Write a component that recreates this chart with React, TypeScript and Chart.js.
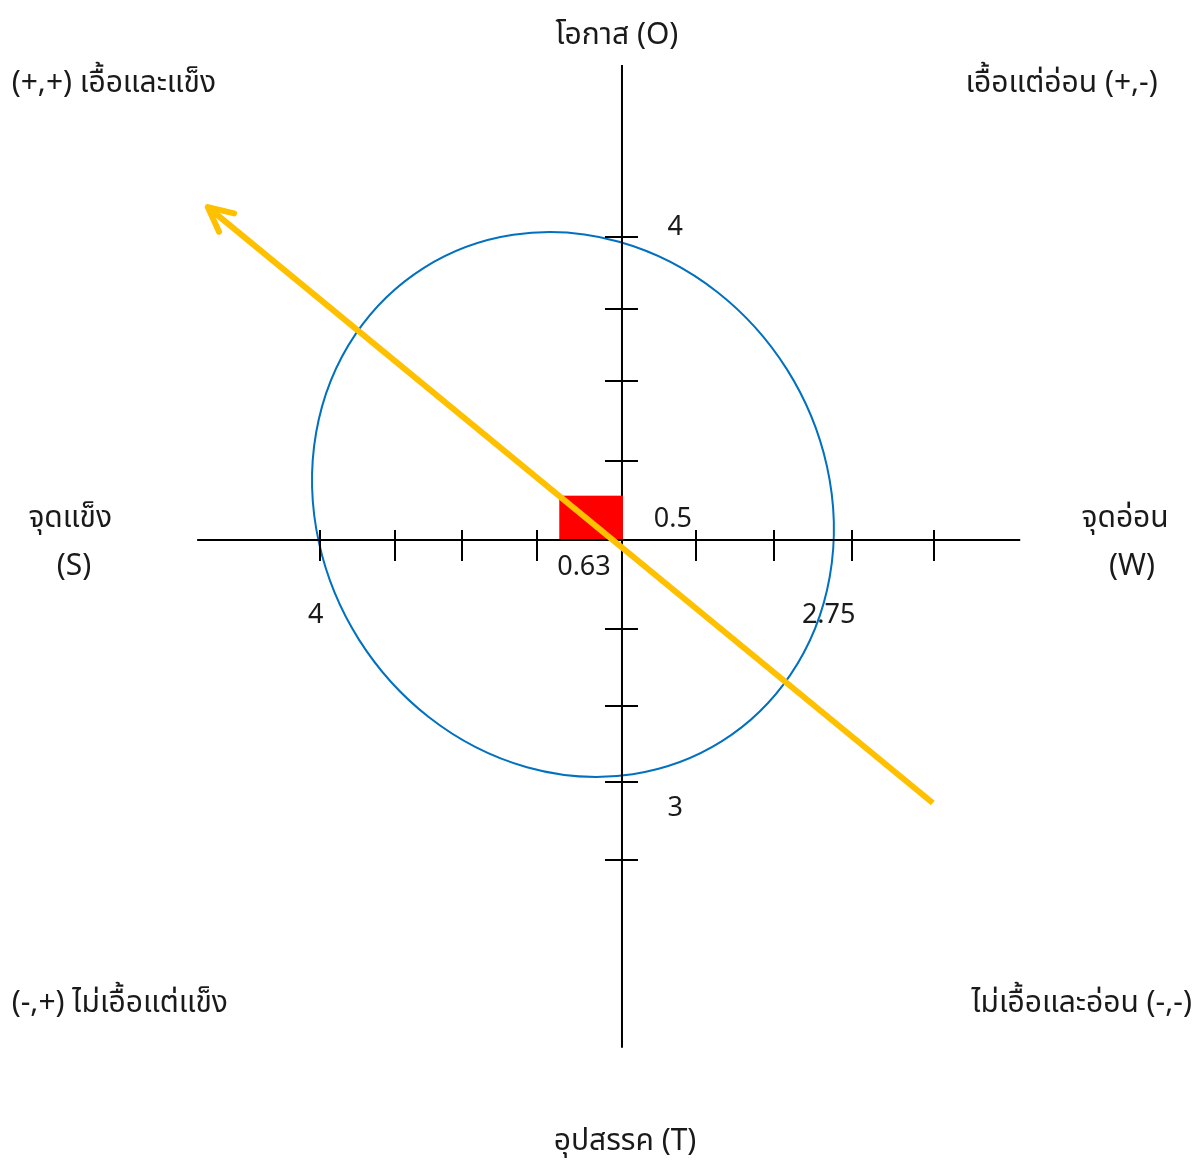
import React, { useEffect, useRef } from "react";
import { Chart, registerables } from "chart.js";

Chart.register(...registerables);

// Plot window (units of the SWOT scores)
const X_MIN = -8.184;
const X_MAX = 7.553;
const Y_MIN = -8.158;
const Y_MAX = 7.105;

// Axes extents
const horizontalAxis = [
  { x: -5.59, y: 0 },
  { x: 5.24, y: 0 },
];
const verticalAxis = [
  { x: 0, y: 6.25 },
  { x: 0, y: -6.68 },
];

// Tick positions
const xTicks = [-3.98, -2.99, -2.1, -1.12, 0.97, 2.0, 3.03, 4.11];
const yTicks = [3.99, 3.04, 2.09, 1.04, -1.17, -2.18, -3.18, -4.21];

// Strategy arrow (tail -> head)
const strategyArrow = [
  { x: 4.09, y: -3.46 },
  { x: -5.45, y: 4.38 },
];

// Red result box
const boxX = [-0.825, 0];
const boxY = [0, 0.583];

// Blue ellipse: center, semi axes, rotation (deg)
const ellipseCenter = [-0.645, 0.467];
const ellipseRadii = [3.68, 3.33];
const ellipseRotationDeg = 57.8;

// Text labels
const labelTexts = [
  "โอกาส (O)",
  "(+,+) เอื้อและแข็ง",
  "เอื้อแต่อ่อน (+,-)",
  "จุดแข็ง",
  "(S)",
  "จุดอ่อน",
  "(W)",
  "(-,+) ไม่เอื้อแต่แข็ง",
  "ไม่เอื้อและอ่อน (-,-)",
  "อุปสรรค (T)",
  "4",
  "0.5",
  "0.63",
  "4",
  "2.75",
  "3",
];
const labelX = [-0.066, -8.03, 7.05, -7.26, -7.21, 6.62, 6.71, -8.03, 7.5, 0.04, 0.7, 0.67, -0.5, -4.03, 2.72, 0.7];
const labelY = [6.66, 6.03, 6.03, 0.3, -0.33, 0.3, -0.33, -6.08, -6.08, -7.89, 4.14, 0.3, -0.33, -0.97, -0.97, -3.51];
const labelAlign: CanvasTextAlign[] = [
  "center", "left", "right", "center", "center", "center", "center",
  "left", "right", "center", "center", "center", "center", "center", "center", "center",
];

const FONT = "'Noto Sans Thai', 'Leelawadee UI', Tahoma, 'Noto Sans', 'DejaVu Sans', sans-serif";

const shapesPlugin = {
  id: "swotShapes",
  beforeDatasetsDraw(chart: any) {
    const { ctx, scales } = chart;
    const xs = scales.x;
    const ys = scales.y;
    const cx = xs.getPixelForValue(ellipseCenter[0]);
    const cy = ys.getPixelForValue(ellipseCenter[1]);
    const rx = Math.abs(xs.getPixelForValue(ellipseCenter[0] + ellipseRadii[0]) - cx);
    const ry = Math.abs(ys.getPixelForValue(ellipseCenter[1] + ellipseRadii[1]) - cy);
    ctx.save();
    ctx.beginPath();
    ctx.ellipse(cx, cy, rx, ry, (ellipseRotationDeg * Math.PI) / 180, 0, Math.PI * 2);
    ctx.strokeStyle = "#0070C0";
    ctx.lineWidth = 2;
    ctx.stroke();
    ctx.restore();
  },
  afterDatasetDraw(chart: any, args: any) {
    const { ctx, scales } = chart;
    const xs = scales.x;
    const ys = scales.y;
    if (args.index === 2) {
      // after vertical axis: red box covers it
      const bx0 = xs.getPixelForValue(boxX[0]);
      const bx1 = xs.getPixelForValue(boxX[1]);
      const by0 = ys.getPixelForValue(boxY[0]);
      const by1 = ys.getPixelForValue(boxY[1]);
      ctx.save();
      ctx.fillStyle = "#FF0000";
      ctx.fillRect(bx0, by1, bx1 - bx0 + 1, by0 - by1);
      ctx.restore();
    }
    if (args.index === 1) {
      ctx.save();
      ctx.strokeStyle = "#000000";
      ctx.lineWidth = 2;
      const y0 = ys.getPixelForValue(0);
      const x0 = xs.getPixelForValue(0);
      ctx.beginPath();
      xTicks.forEach((t) => {
        const px = Math.round(xs.getPixelForValue(t));
        ctx.moveTo(px, y0 - 10);
        ctx.lineTo(px, y0 + 21);
      });
      yTicks.forEach((t) => {
        const py = Math.round(ys.getPixelForValue(t));
        ctx.moveTo(x0 - 17, py);
        ctx.lineTo(x0 + 16, py);
      });
      ctx.stroke();
      ctx.restore();
    }
    if (args.index === 0) {
      const tail = strategyArrow[0];
      const head = strategyArrow[1];
      const hx = xs.getPixelForValue(head.x);
      const hy = ys.getPixelForValue(head.y);
      const tx = xs.getPixelForValue(tail.x);
      const ty = ys.getPixelForValue(tail.y);
      const ang = Math.atan2(ty - hy, tx - hx);
      const len = 27;
      const spread = (26 * Math.PI) / 180;
      ctx.save();
      ctx.strokeStyle = "#FFC000";
      ctx.lineWidth = 6;
      ctx.lineCap = "round";
      ctx.lineJoin = "round";
      ctx.beginPath();
      ctx.moveTo(hx + len * Math.cos(ang - spread), hy + len * Math.sin(ang - spread));
      ctx.lineTo(hx, hy);
      ctx.lineTo(hx + len * Math.cos(ang + spread), hy + len * Math.sin(ang + spread));
      ctx.stroke();
      ctx.restore();
    }
  },
  afterDraw(chart: any) {
    const { ctx, scales } = chart;
    ctx.save();
    ctx.fillStyle = "#1a1a1a";
    ctx.textBaseline = "middle";
    labelTexts.forEach((t, i) => {
      const isNum = /^[0-9.]+$/.test(t);
      ctx.font = `${isNum ? 27 : 30}px ${FONT}`;
      ctx.textAlign = labelAlign[i];
      ctx.fillText(t, scales.x.getPixelForValue(labelX[i]), scales.y.getPixelForValue(labelY[i]) + 4);
    });
    ctx.restore();
  },
};

export default function App() {
  const ref = useRef<HTMLCanvasElement | null>(null);
  useEffect(() => {
    if (!ref.current) return;
    const chart = new Chart(ref.current, {
      type: "scatter",
      data: {
        datasets: [
          {
            data: strategyArrow,
            showLine: true,
            borderColor: "#FFC000",
            borderWidth: 6,
            borderCapStyle: "butt",
            pointRadius: 0,
          },
          {
            data: horizontalAxis,
            showLine: true,
            borderColor: "#000000",
            borderWidth: 2,
            pointRadius: 0,
          },
          {
            data: verticalAxis,
            showLine: true,
            borderColor: "#000000",
            borderWidth: 2,
            pointRadius: 0,
          },
        ],
      },
      options: {
        animation: false,
        responsive: true,
        maintainAspectRatio: false,
        layout: { padding: 0 },
        plugins: {
          legend: { display: false },
          tooltip: { enabled: false },
          title: { display: false },
        },
        scales: {
          x: { type: "linear", min: X_MIN, max: X_MAX, display: false },
          y: { type: "linear", min: Y_MIN, max: Y_MAX, display: false },
        },
      },
      plugins: [shapesPlugin],
    });
    return () => chart.destroy();
  }, []);
  return (
    <div style={{ position: "absolute", left: 0, top: 0, width: 1196, height: 1160, background: "#ffffff" }}>
      <canvas ref={ref} />
    </div>
  );
}
